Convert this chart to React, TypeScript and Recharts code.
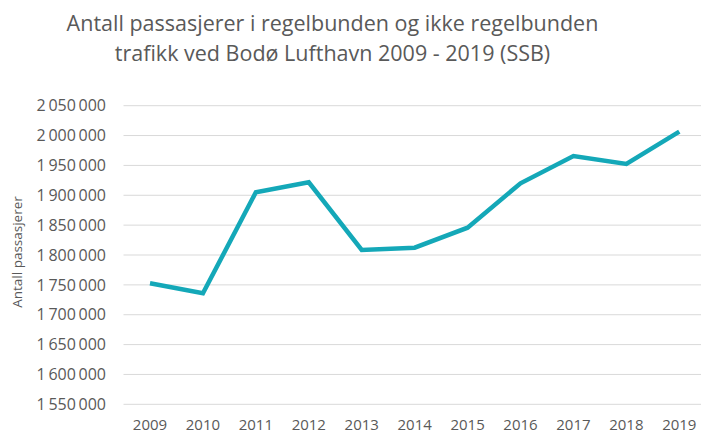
import React from 'react';
import { LineChart, Line, XAxis, YAxis, CartesianGrid } from 'recharts';

const years = ['2009', '2010', '2011', '2012', '2013', '2014', '2015', '2016', '2017', '2018', '2019'];
const passengers = [1752600, 1735900, 1905000, 1921700, 1808400, 1812200, 1845700, 1920100, 1965800, 1952400, 2006500];
const yTicks = [1550000, 1600000, 1650000, 1700000, 1750000, 1800000, 1850000, 1900000, 1950000, 2000000, 2050000];
const titleLines = ['Antall passasjerer i regelbunden og ikke regelbunden', 'trafikk ved Bodø Lufthavn 2009 - 2019 (SSB)'];
const yAxisTitle = 'Antall passasjerer';

const data = years.map((y, i) => ({ year: y, value: passengers[i] }));

const fmt = (v: number) => String(v).replace(/\B(?=(\d{3})+(?!\d))/g, '\u2006');

const FONT = '"Open Sans", "Noto Sans", sans-serif';
const TEXT = '#595959';

export default function App() {
  return (
    <div style={{ position: 'absolute', left: 0, top: 0, width: 701, height: 437, overflow: 'hidden', background: '#fff' }}>
      <div
        style={{
          position: 'absolute',
          left: 0,
          top: 8.4,
          width: 665,
          textAlign: 'center',
          fontFamily: FONT,
          fontSize: 21.5,
          lineHeight: '30px',
          color: TEXT,
          whiteSpace: 'nowrap',
        }}
      >
        {titleLines.map((t) => (
          <div key={t}>{t}</div>
        ))}
      </div>
      <LineChart
        width={710}
        height={437}
        data={data}
        margin={{ top: 105.7, right: 4.2, bottom: 0, left: 0 }}
      >
        <CartesianGrid vertical={false} stroke="#D9D9D9" strokeWidth={1} />
        <XAxis
          dataKey="year"
          height={32.7}
          axisLine={false}
          tickLine={false}
          tickSize={0}
          tickMargin={15}
          padding={{ left: 26.5, right: 26.5 }}
          tick={{ fill: TEXT, fontFamily: FONT, fontSize: 15 }}
          interval={0}
        />
        <YAxis
          width={123.5}
          domain={[1550000, 2050000]}
          ticks={yTicks}
          axisLine={false}
          tickLine={false}
          tickSize={0}
          tickMargin={17.5}
          tickFormatter={fmt}
          tick={{ fill: TEXT, fontFamily: FONT, fontSize: 16 }}
          label={{
            content: () => (
              <text
                x={17}
                y={252}
                transform="rotate(-90 17 252)"
                textAnchor="middle"
                dominantBaseline="central"
                fill={TEXT}
                fontFamily={FONT}
                fontSize={13.5}
              >
                {yAxisTitle}
              </text>
            ),
          }}
        />
        <Line
          type="linear"
          dataKey="value"
          stroke="#14A8B8"
          strokeWidth={4.5}
          dot={false}
          activeDot={false}
          isAnimationActive={false}
        />
      </LineChart>
    </div>
  );
}
